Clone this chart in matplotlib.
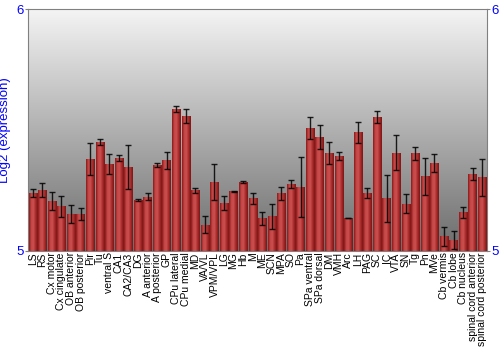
import numpy as np
import matplotlib
matplotlib.use("Agg")
import matplotlib.pyplot as plt
from matplotlib.colors import LinearSegmentedColormap

plt.rcParams['font.family'] = ['Liberation Sans', 'DejaVu Sans']

regions = ["LS", "RS", "Cx motor", "Cx cingulate", "OB anterior", "OB posterior",
           "Pir", "Tu", "ventral S", "CA1", "CA2/CA3", "DG", "A anterior",
           "A posterior", "GP", "CPu lateral", "CPu medial", "MD", "VA/VL",
           "VPM/VPL", "LG", "MG", "Hb", "M", "ME", "SCN", "MPA", "SO", "Pa",
           "SPa ventral", "SPa dorsal", "DM", "VMH", "Arc", "LH", "PAG", "SC",
           "IC", "VTA", "SN", "Tg", "Pn", "MVe", "Cb vermis", "Cb lobe",
           "Cb nucleus", "spinal cord anterior", "spinal cord posterior"]
expr = [5.240, 5.254, 5.207, 5.185, 5.152, 5.152, 5.381, 5.450, 5.359, 5.384,
        5.348, 5.210, 5.224, 5.355, 5.374, 5.588, 5.557, 5.250, 5.109, 5.285,
        5.198, 5.246, 5.287, 5.218, 5.135, 5.144, 5.239, 5.276, 5.265, 5.508,
        5.471, 5.405, 5.392, 5.137, 5.490, 5.240, 5.554, 5.217, 5.407, 5.195,
        5.403, 5.308, 5.362, 5.061, 5.046, 5.160, 5.318, 5.304]
err = [0.017, 0.029, 0.037, 0.043, 0.038, 0.026, 0.066, 0.012, 0.041, 0.011,
       0.090, 0.003, 0.015, 0.008, 0.036, 0.012, 0.029, 0.011, 0.036, 0.075,
       0.028, 0.003, 0.004, 0.023, 0.027, 0.052, 0.027, 0.016, 0.125, 0.047,
       0.048, 0.046, 0.017, 0.001, 0.045, 0.022, 0.024, 0.097, 0.072, 0.039,
       0.026, 0.075, 0.037, 0.039, 0.037, 0.022, 0.024, 0.075]

fig = plt.figure(figsize=(5, 3.5), dpi=100)
ax = fig.add_axes([0.056, 0.283, 0.918, 0.691])

x = np.arange(len(regions))
ax.set_xlim(-0.5, len(regions) - 0.5)
ax.set_ylim(5, 6)

# background gradient
bg = LinearSegmentedColormap.from_list("bg", ["#6c6c6c", "#f4f4f4"])
ax.imshow(np.linspace(0, 1, 256).reshape(-1, 1), cmap=bg, aspect="auto",
          extent=[-0.5, len(regions) - 0.5, 5, 6], origin="lower", zorder=0)

bars = ax.bar(x, [v - 5 for v in expr], bottom=5, width=0.88,
              color="#b03030", zorder=2)
redgrad = LinearSegmentedColormap.from_list(
    "red", ["#8a1a1a", "#c44545", "#cc5050", "#a82a2a", "#7a1515"])
for b in bars:
    x0, y0 = b.get_x(), b.get_y()
    im = ax.imshow(np.linspace(0, 1, 64).reshape(1, -1), cmap=redgrad,
                   aspect="auto", extent=[x0, x0 + b.get_width(), y0, y0 + b.get_height()],
                   zorder=3)
    im.set_clip_path(b)

ax.errorbar(x, expr, yerr=err, fmt="none", ecolor="black", elinewidth=1,
            capsize=2, capthick=1, alpha=0.85, zorder=4)

ax.set_xticks(x)
ax.set_xticklabels(regions, rotation=90, fontsize=7.5)
ax.tick_params(axis="x", length=0, pad=1)
ax.set_yticks([5, 6])
ax.tick_params(axis="y", colors="#808080", labelcolor="blue", labelsize=9.5,
               length=2, pad=1, left=True, right=True, labelleft=True, labelright=True)
ax.set_ylabel("Log2 (expression)", color="blue", fontsize=9.5)
ax.yaxis.set_label_coords(-0.036, 0.5)

for s in ["left", "right", "top", "bottom"]:
    ax.spines[s].set_color("#808080")

fig.savefig("out.png", dpi=100)
